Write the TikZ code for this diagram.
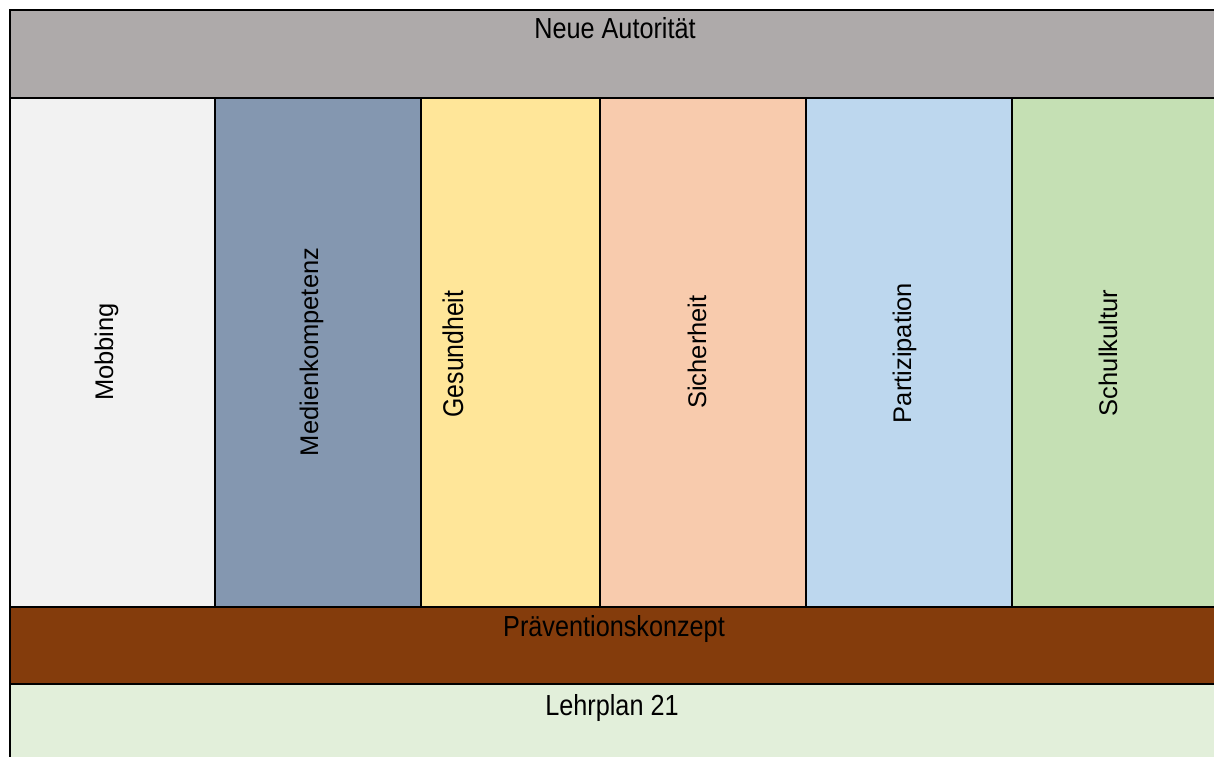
\documentclass[tikz,border=0pt]{standalone}
\usepackage{fontspec}
\setmainfont{Liberation Sans}
\newfontfamily\condfont[FakeStretch=0.87]{Liberation Sans}
\definecolor{cTop}{HTML}{AEAAAA}
\definecolor{cMob}{HTML}{F2F2F2}
\definecolor{cMed}{HTML}{8497B0}
\definecolor{cGes}{HTML}{FFE699}
\definecolor{cSic}{HTML}{F8CBAD}
\definecolor{cPar}{HTML}{BDD7EE}
\definecolor{cSch}{HTML}{C5E0B4}
\definecolor{cPra}{HTML}{843C0C}
\definecolor{cLeh}{HTML}{E2EFDA}
\begin{document}
\begin{tikzpicture}[x=1pt,y=-1pt,
  cell/.style={draw=black,line width=2.5pt},
  htext/.style={anchor=base,inner sep=0pt,font=\condfont\fontsize{29}{33}\selectfont},
  vtext/.style={anchor=base,inner sep=0pt,rotate=90,font=\fontsize{25.5}{29}\selectfont},
  vctext/.style={anchor=base,inner sep=0pt,rotate=90,font=\condfont\fontsize{28.5}{32}\selectfont}]
\useasboundingbox[fill=white] (0,0) rectangle (1214,756);
% rows
\filldraw[cell,fill=cTop] (10,10) rectangle (1222,98);
\filldraw[cell,fill=cMob] (10,98) rectangle (215,607);
\filldraw[cell,fill=cMed] (215,98) rectangle (421,607);
\filldraw[cell,fill=cGes] (421,98) rectangle (600,607);
\filldraw[cell,fill=cSic] (600,98) rectangle (806,607);
\filldraw[cell,fill=cPar] (806,98) rectangle (1012,607);
\filldraw[cell,fill=cSch] (1012,98) rectangle (1222,607);
\filldraw[cell,fill=cPra] (10,607) rectangle (1222,684);
\filldraw[cell,fill=cLeh] (10,684) rectangle (1222,764);
% texts
\node[htext] (na) at (615,38) {Neue Autorität};
\node[htext] (pk) at (614,636) {Präventionskonzept};
\node[htext] (lp) at (612,715) {Lehrplan 21};
\node[vtext] (mob) at (113,352) {Mobbing};
\node[vtext] (med) at (318,352) {Medienkompetenz};
\node[vctext] (ges) at (463,354) {Gesundheit};
\node[vtext] (sic) at (706,352) {Sicherheit};
\node[vtext] (par) at (911,353) {Partizipation};
\node[vtext] (sch) at (1117,353) {Schulkultur};
\end{tikzpicture}
\end{document}
